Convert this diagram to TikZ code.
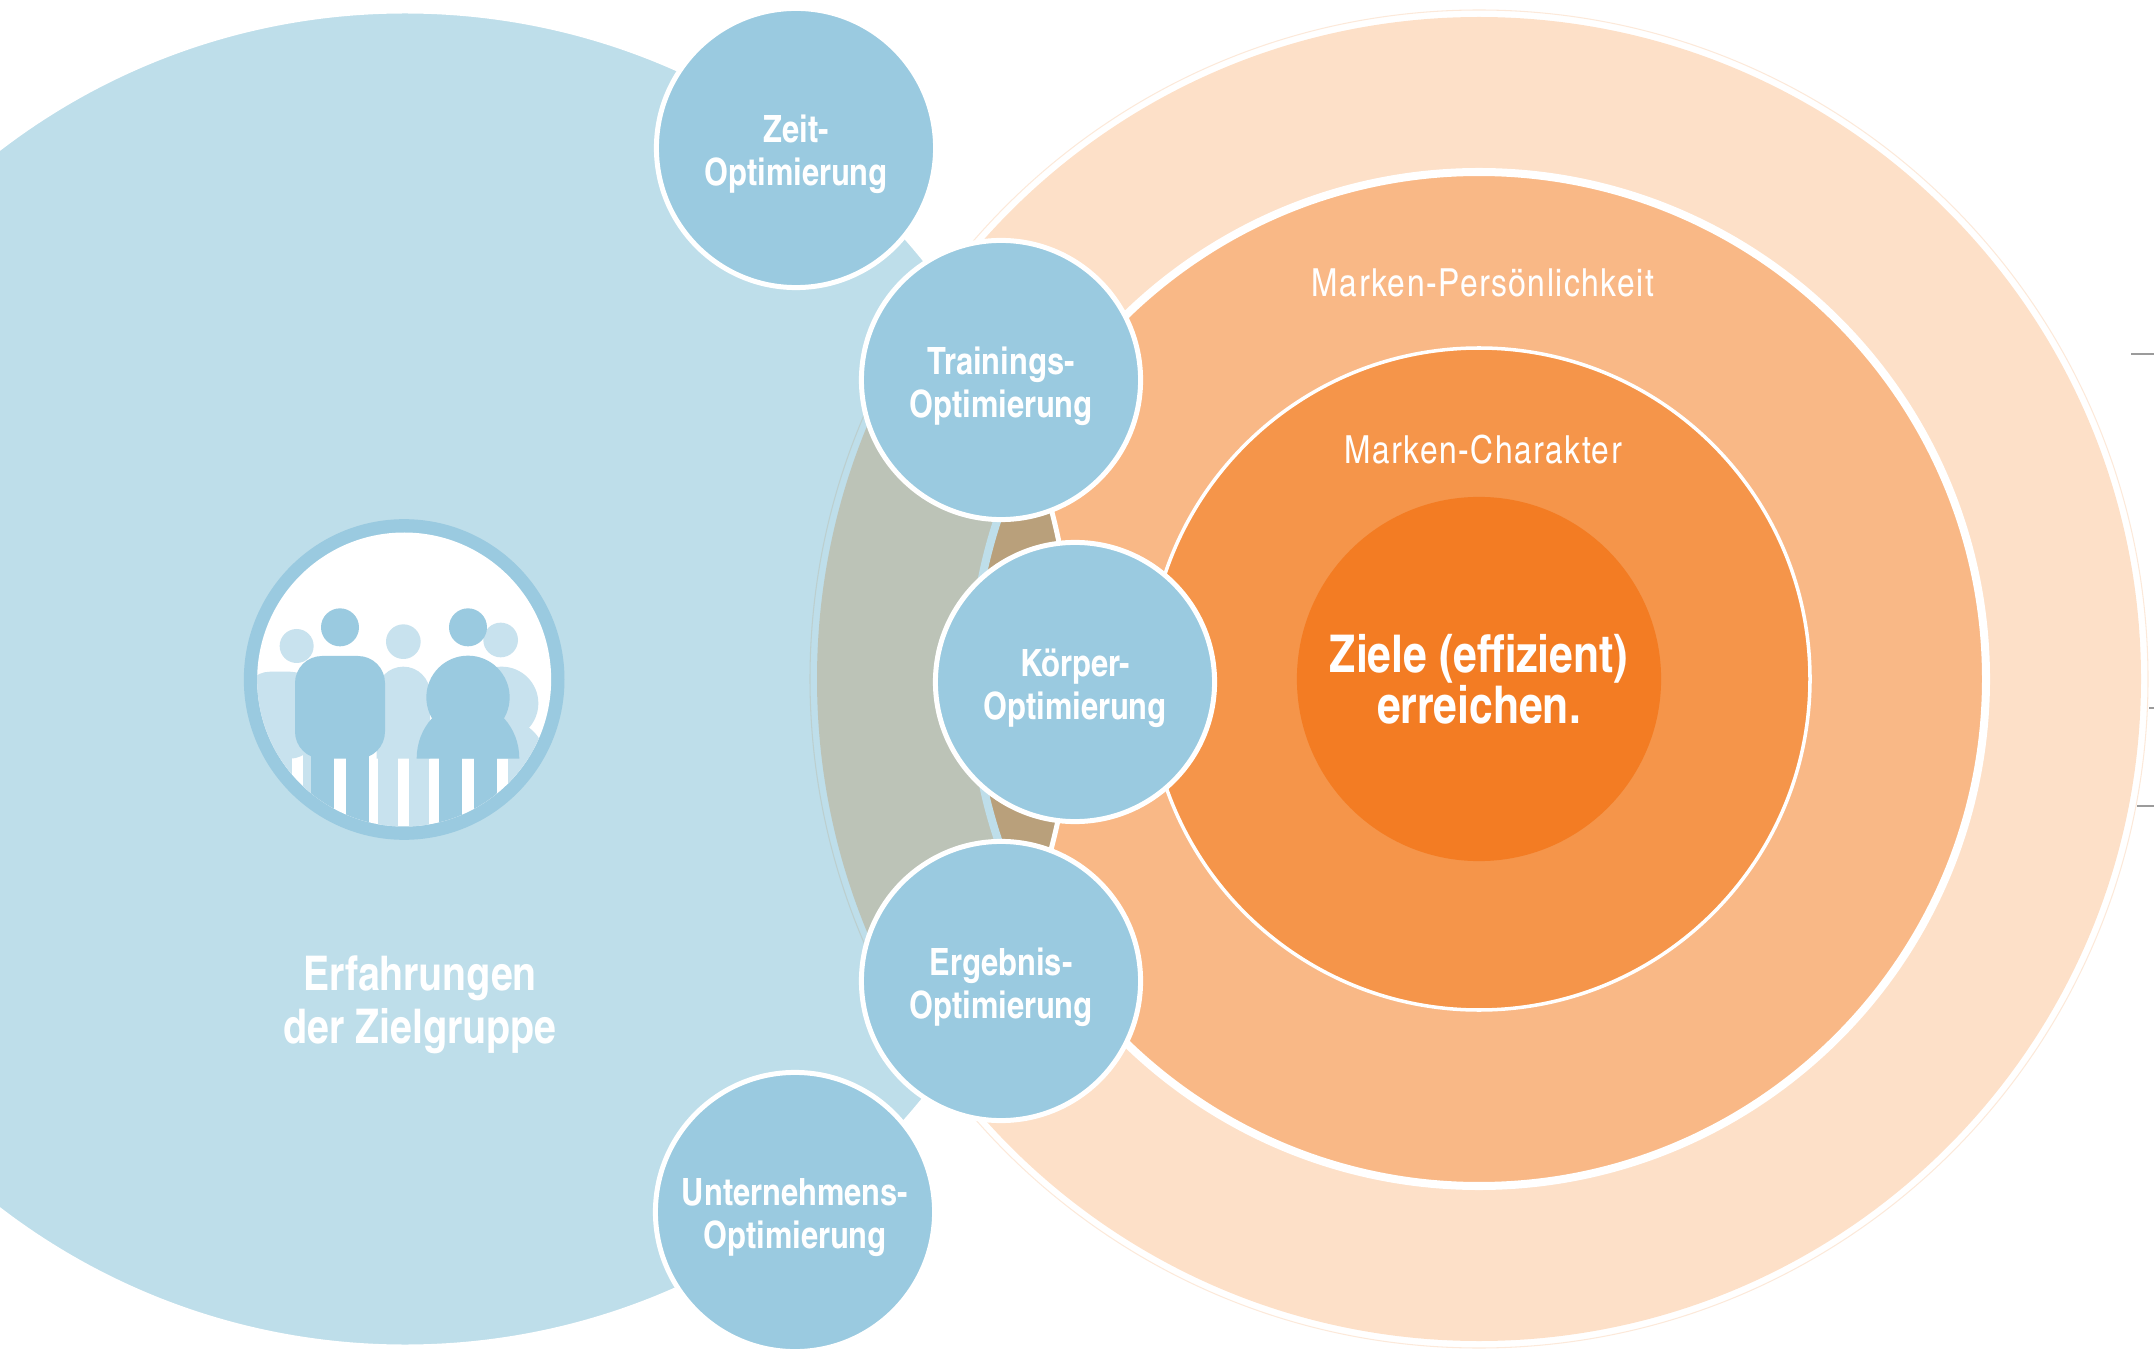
\documentclass[tikz,border=0pt]{standalone}
\usepackage{fontspec}
\newfontfamily\cnbold{texgyreheroscn-bold.otf}
\newfontfamily\cnreg{texgyreheroscn-regular.otf}[LetterSpace=4]
\definecolor{bgblue}{HTML}{BEDEEA}
\definecolor{cblue}{HTML}{9ACAE0}
\definecolor{lblue}{HTML}{C8E2EE}
\definecolor{peach}{HTML}{FDE0C8}
\definecolor{peachline}{HTML}{FCE9DA}
\definecolor{ringtwo}{HTML}{F9B886}
\definecolor{ringthree}{HTML}{F5954A}
\definecolor{corec}{HTML}{F37C23}
\definecolor{lensgray}{HTML}{BCC3B7}
\definecolor{lensline}{HTML}{BCCFCF}
\definecolor{lensbrown}{HTML}{B9A07B}
\definecolor{tickgray}{HTML}{9B9B9B}
\tikzset{
  smallc/.style={circle, fill=cblue, draw=white, line width=1.42pt,
    minimum size=2.79cm, inner sep=0pt},
  circtext/.style={text=white, align=center, inner sep=0pt, yshift=-0.06cm,
    font=\cnbold\fontsize{10.7}{12.2}\selectfont},
  corenode/.style={circle, fill=corec, minimum size=3.64cm, inner sep=0pt,
    text=white, align=center, font=\cnbold\fontsize{14.8}{14.5}\selectfont},
  bigtext/.style={text=white, align=center, inner sep=0pt,
    font=\cnbold\fontsize{13.6}{15.1}\selectfont},
  marklabel/.style={text=white, anchor=base, inner sep=0pt,
    font=\cnreg\fontsize{11}{12}\selectfont},
  tickmark/.style={tickgray, line width=0.45pt},
}
\begin{document}
\begin{tikzpicture}[x=0.01cm,y=-0.01cm]
\useasboundingbox (0,0) rectangle (2154,1352);
\coordinate (oc) at (1479,679);
\coordinate (bc) at (405,679);
% orange concentric circles
\fill[peach] (oc) circle (662);
\draw[peachline, line width=0.3pt] (oc) circle (669);
\filldraw[fill=ringtwo, draw=white, line width=2.28pt] (oc) circle (507);
\filldraw[fill=ringthree, draw=white, line width=1pt] (oc) circle (331);
\node[corenode] (core) at (oc) {Ziele (effizient)\\erreichen.};
% big blue circle
\fill[bgblue] (bc) circle (668);
\begin{scope}
  \clip (bc) circle (668);
  \fill[lensgray] (oc) circle (662);
  \draw[lensline, line width=0.3pt] (oc) circle (669);
  \filldraw[fill=lensbrown, draw=bgblue, line width=2.28pt] (oc) circle (507);
\end{scope}
\draw[white, line width=1.42pt] (bc) circle (668);
% icon
\begin{scope}[shift={(230,500)}, scale=1/3]
  \fill[cblue] (522.5,538.5) circle (481);
  \fill[white] (522.5,538.5) circle (441);
  \begin{scope}
    \clip (522.5,538.5) circle (441);
    % light (back) figures
    \fill[lblue] (200,438) circle (51);
    \fill[lblue, rounded corners=0.27cm] (40,515) rectangle (260,776);
    \fill[lblue] (40,740) rectangle (185,1000);
    \fill[lblue] (220,740) rectangle (260,1000);
    \fill[lblue] (520,425) circle (52);
    \fill[lblue] (440,776) -- (440,580) arc[start angle=180, end angle=360, radius=80] -- (600,776) -- cycle;
    \fill[lblue] (443,770) rectangle (503,1000);
    \fill[lblue] (537,770) rectangle (597,1000);
    \fill[lblue] (812,420) circle (52);
    \fill[lblue] (815,610) circle (110);
    \fill[lblue] (685,776) arc[start angle=180, end angle=360, x radius=130, y radius=120] -- cycle;
    \fill[lblue] (835,770) rectangle (900,1000);
    % dark (front) figures
    \fill[cblue] (330,382) circle (57);
    \fill[cblue, rounded corners=0.27cm] (195,468) rectangle (465,776);
    \fill[cblue] (243,700) rectangle (311,1000);
    \fill[cblue] (349,700) rectangle (417,1000);
    \fill[cblue] (714,382) circle (57);
    \fill[cblue] (714,592) circle (125);
    \fill[cblue] (560,776) arc[start angle=180, end angle=360, x radius=154, y radius=170] -- cycle;
    \fill[cblue] (627,700) rectangle (695,1000);
    \fill[cblue] (733,700) rectangle (801,1000);
  \end{scope}
\end{scope}
\node[bigtext] (erf) at (420,1005) {Erfahrungen\\der Zielgruppe};
% small circles
\node[smallc, label={[circtext]center:{Zeit-\\Optimierung}}] (zeit) at (796,148) {};
\node[smallc, label={[circtext]center:{Trainings-\\Optimierung}}] (training) at (1001,380) {};
\node[smallc, label={[circtext]center:{Körper-\\Optimierung}}] (koerper) at (1075,682) {};
\node[smallc, label={[circtext]center:{Ergebnis-\\Optimierung}}] (ergebnis) at (1001,981) {};
\node[smallc, label={[circtext]center:{Unternehmens-\\Optimierung}}] (unternehmen) at (795,1212) {};
% ring labels
\node[marklabel] (mpers) at (1483,297) {Marken-Persönlichkeit};
\node[marklabel] (mchar) at (1483,464) {Marken-Charakter};
% tick marks at the right edge
\coordinate (ta) at (2131,354);
\coordinate (tb) at (2149,708);
\coordinate (tc) at (2137,806);
\draw[tickmark] (ta) -- (2154,354);
\draw[tickmark] (tb) -- (2154,708);
\draw[tickmark] (tc) -- (2154,806);
\end{tikzpicture}
\end{document}
